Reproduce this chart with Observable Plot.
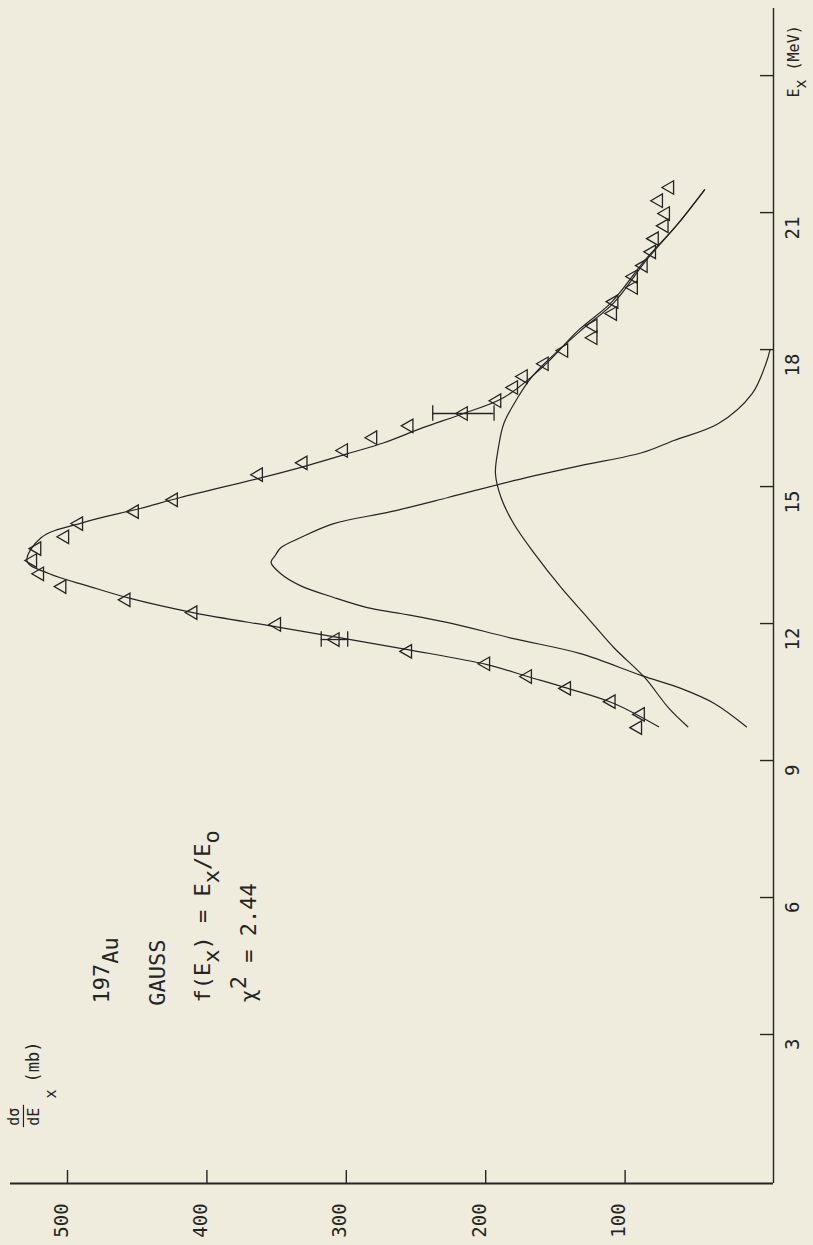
<!DOCTYPE html>
<html><head><meta charset="utf-8">
<script src="https://cdn.jsdelivr.net/npm/d3@7"></script>
<script src="https://cdn.jsdelivr.net/npm/@observablehq/plot@0.6"></script>
<style>html,body{margin:0;padding:0;background:#efebdd;overflow:hidden}</style>
</head><body><div id="chart"></div>
<script>
// ---- data ----
// measured cross section points (E_x in MeV, dσ/dE in mb)
const dataE = [9.72, 10.01, 10.29, 10.58, 10.84, 11.12, 11.39, 11.65, 11.98, 12.24, 12.52, 12.81, 13.09, 13.38, 13.64, 13.90, 14.19, 14.45, 14.71, 15.26, 15.52, 15.79, 16.07, 16.33, 16.60, 16.88, 17.17, 17.41, 17.69, 17.98, 18.26, 18.52, 18.79, 19.05, 19.36, 19.60, 19.84, 20.14, 20.43, 20.71, 20.98, 21.26, 21.55];
const dataV = [91, 89, 110, 142, 170, 200, 256, 308, 350, 410, 458, 504, 520, 525, 522, 502, 492, 452, 424, 363, 331, 302, 281, 255, 216, 192, 180, 173, 158, 144, 123, 123, 109, 108, 94, 94, 87, 81, 79, 72, 71, 76, 68];
// error bars
const errE = [11.65, 16.60];
const errLo = [299, 194];
const errHi = [318, 238];
// total fit curve
const totalE = [9.74, 10.25, 10.58, 10.84, 11.10, 11.43, 11.91, 12.24, 12.55, 12.81, 13.09, 13.36, 13.88, 14.21, 14.52, 14.76, 15.20, 15.46, 15.72, 15.96, 16.29, 16.60, 16.95, 17.65, 18.41, 19.03, 19.95, 20.76, 21.50];
const totalV = [76, 108, 141, 170, 199, 256, 347, 410, 455, 484, 513, 529, 519, 489, 448, 419, 360, 328, 299, 273, 245, 216, 187, 158, 134, 110, 86, 62, 43];
// broad gaussian component
const broadE = [9.74, 10.16, 10.82, 11.47, 12.13, 12.79, 13.53, 14.19, 14.76, 15.28, 15.83, 16.38, 16.95, 17.36, 17.69, 18.41, 19.03, 19.95, 20.76, 21.50];
const broadV = [55, 69, 86, 108, 127, 146, 165, 180, 189, 193, 191, 187, 177, 168, 158, 132, 108, 85, 62, 43];
// narrow gaussian component
const narrowE = [9.74, 10.25, 10.58, 10.86, 11.34, 11.67, 12.02, 12.22, 12.35, 12.57, 12.83, 13.09, 13.34, 13.49, 13.66, 13.88, 14.19, 14.45, 14.76, 15.13, 15.46, 15.74, 16.01, 16.38, 17.03, 17.69, 18.0];
const narrowV = [13, 36, 60, 88, 132, 180, 227, 261, 285, 309, 333, 347, 354, 351, 347, 333, 309, 268, 227, 180, 132, 88, 65, 33, 9, -1, -4];
// ticks
const valueTicks = [100, 200, 300, 400, 500];
const energyTicks = [3, 6, 9, 12, 15, 18, 21, 24];
const energyLabels = ["3", "6", "9", "12", "15", "18", "21", ""];

// ---- layout / style ----
const xDomain = [540.9, -6.46];   // dσ/dE, increasing to the left (rotated chart)
const yDomain = [-0.263, 25.47];  // E_x, increasing upward
const ink = "#242424";
const tickLenE = 0.285, tickLenV = 9.3, cap = 0.17;

const points = dataE.map((e, i) => ({e, v: dataV[i]}));
const errs = errE.map((e, i) => ({e, lo: errLo[i], hi: errHi[i]}));
const total = totalE.map((e, i) => ({e, v: totalV[i]}));
const broad = broadE.map((e, i) => ({e, v: broadV[i]}));
const narrow = narrowE.map((e, i) => ({e, v: narrowV[i]}));

const notes = [
  {t: "(mb)", v: 524.4, e: 1.95, size: 17, anchor: "start"},
  {t: "dσ", v: 538, e: 1.2, size: 15, anchor: "middle"},
  {t: "dE", v: 523.7, e: 1.2, size: 15, anchor: "middle"},
  {t: "x", v: 511.5, e: 1.6, size: 15, anchor: "start"},
  {t: "197_{Au}", v: 475.6, e: 3.68, size: 22, anchor: "start"},
  {t: "GAUSS", v: 435.4, e: 3.63, size: 22, anchor: "start"},
  {t: "f(E_x) = E_x/E_o", v: 403, e: 3.7, size: 22, anchor: "start"},
  {t: "χ^2 = 2.44", v: 370, e: 3.7, size: 22, anchor: "start"},
  {t: "E_x (MeV)", v: -21.5, e: 23.52, size: 15, anchor: "start"}
];

// left-pointing open triangle
const triLeft = {
  draw(ctx, size) {
    const y = Math.sqrt(size / (3 * Math.sqrt(3)));
    ctx.moveTo(-2 * y, 0);
    ctx.lineTo(y, -Math.sqrt(3) * y);
    ctx.lineTo(y, Math.sqrt(3) * y);
    ctx.closePath();
  }
};

const lineOpts = {x: "v", y: "e", curve: "catmull-rom", stroke: ink, strokeWidth: 1.2};

const chart = Plot.plot({
  width: 813, height: 1245,
  marginLeft: 10, marginRight: 40, marginTop: 8, marginBottom: 62,
  style: {background: "#efebdd", fontFamily: "'DejaVu Sans Mono', monospace", color: ink},
  x: {domain: xDomain, axis: null},
  y: {domain: yDomain, axis: null},
  marks: [
    // axes
    Plot.ruleX([xDomain[1]], {stroke: ink, strokeWidth: 1.4}),
    Plot.ruleY([yDomain[0]], {stroke: ink, strokeWidth: 1.8}),
    Plot.ruleX(valueTicks, {x: d => d, y1: yDomain[0], y2: yDomain[0] + tickLenE, stroke: ink, strokeWidth: 1.4}),
    Plot.ruleY(energyTicks, {y: d => d, x1: xDomain[1], x2: xDomain[1] + tickLenV, stroke: ink, strokeWidth: 1.4}),
    Plot.text(valueTicks, {x: d => d, frameAnchor: "bottom", dy: 37, rotate: -90, text: d => String(d), fontSize: 19, fill: ink}),
    Plot.text(energyTicks, {y: d => d, frameAnchor: "right", dx: 19, dy: 4, rotate: -90, text: (d, i) => energyLabels[i], fontSize: 19, fill: ink}),
    // curves
    Plot.line(narrow, lineOpts),
    Plot.line(broad, lineOpts),
    Plot.line(total, lineOpts),
    // error bars
    Plot.ruleY(errs, {y: "e", x1: "lo", x2: "hi", stroke: ink, strokeWidth: 1.3}),
    Plot.ruleX(errs, {x: "lo", y1: d => d.e - cap, y2: d => d.e + cap, stroke: ink, strokeWidth: 1.3}),
    Plot.ruleX(errs, {x: "hi", y1: d => d.e - cap, y2: d => d.e + cap, stroke: ink, strokeWidth: 1.3}),
    // data
    Plot.dot(points, {x: "v", y: "e", symbol: triLeft, r: 5, stroke: ink, strokeWidth: 1.3, fill: "none"}),
    // fraction bar of dσ/dE
    Plot.ruleX([531.6], {y1: 0.96, y2: 1.45, stroke: ink, strokeWidth: 1.2}),
    // annotations
    ...notes.map(n => Plot.text([n], {x: "v", y: "e", text: "t", rotate: -90, textAnchor: n.anchor, fontSize: n.size, fill: ink}))
  ]
});

// sub/superscripts: _c, _{..}, ^c
const SUB = 0.42, SUP = -0.45;
d3.select(chart).selectAll("text").each(function() {
  const t = this.textContent;
  if (!/[_^]/.test(t)) return;
  const sel = d3.select(this);
  sel.text(null);
  let shift = 0;
  const parts = t.match(/[_^]\{[^}]*\}|[_^].|[^_^]+/g);
  for (const p of parts) {
    let target = 0, s = p;
    if (p[0] === "_" || p[0] === "^") {
      target = p[0] === "_" ? SUB : SUP;
      s = p[1] === "{" ? p.slice(2, -1) : p.slice(1);
    }
    const ts = sel.append("tspan").text(s);
    const d = target - shift;
    if (d) ts.attr("dy", d.toFixed(2) + "em");
    shift = target;
  }
});
d3.select(chart).selectAll("text").attr("xml:space", "preserve").style("white-space", "pre");

document.getElementById("chart").appendChild(chart);
</script>
</body></html>
